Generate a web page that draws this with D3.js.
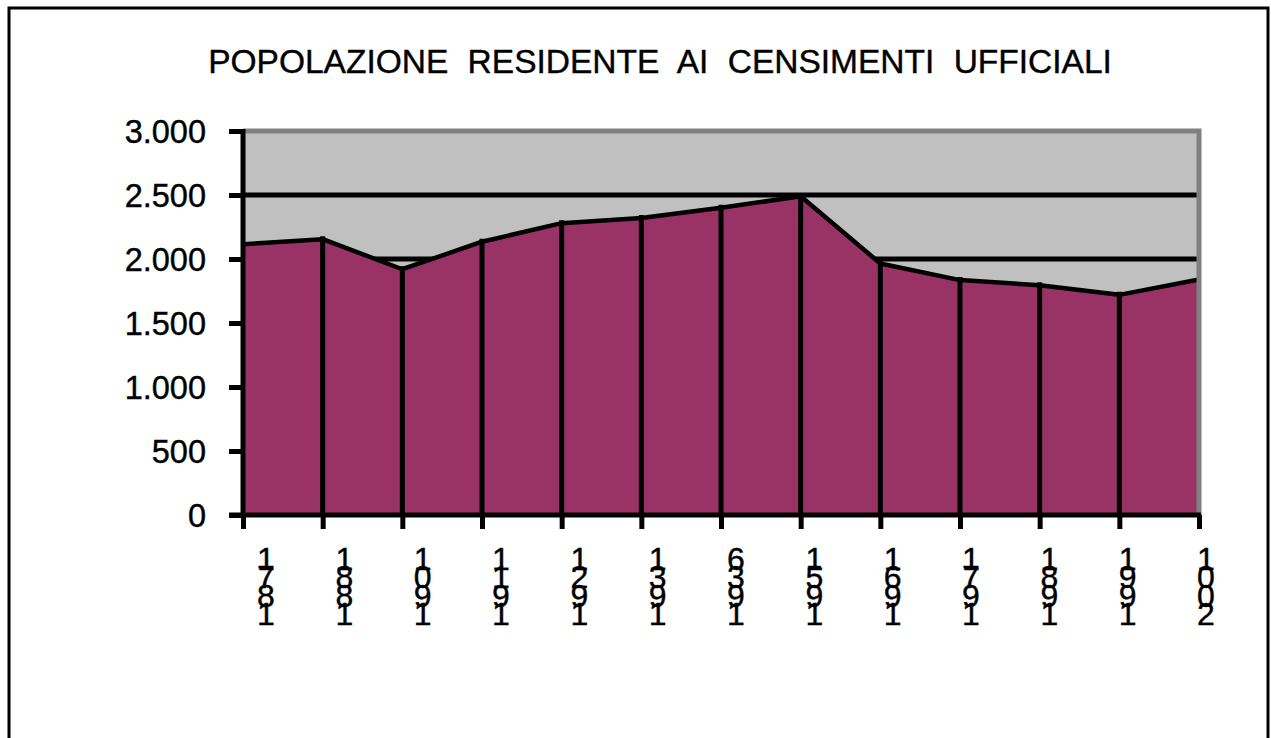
<!DOCTYPE html>
<html><head><meta charset="utf-8">
<script src="https://cdn.jsdelivr.net/npm/d3@7"></script>
<style>
html,body{margin:0;padding:0;background:#fff;}
svg{display:block;font-family:"Liberation Sans",Arial,sans-serif;}
</style></head>
<body><svg id="c" width="1271" height="738"></svg>
<script>
const title = "POPOLAZIONE RESIDENTE AI CENSIMENTI UFFICIALI";
const years = ["1871","1881","1901","1911","1921","1931","1936","1951","1961","1971","1981","1991","2001"];
const population = [2115, 2155, 1920, 2135, 2280, 2320, 2400, 2490, 1965, 1835, 1795, 1720, 1840];
const yTicks = [0, 500, 1000, 1500, 2000, 2500, 3000];

const data = years.map((y, i) => ({year: y, value: population[i]}));
const svg = d3.select("#c");
const L = 243, R = 1199, T = 131, B = 515;

const x = d3.scalePoint().domain(years).range([L, R]).padding(0);
const xLab = d3.scalePoint().domain(years).range([266, 1206]).padding(0);
const y = d3.scaleLinear().domain([0, 3000]).range([B, T]);
const fmt = d3.formatLocale({decimal: ",", thousands: ".", grouping: [3], currency: ["", ""]}).format(",d");

// outer frame
svg.append("rect").attr("x", 9).attr("y", 8).attr("width", 1259).attr("height", 760)
  .attr("fill", "#fff").attr("stroke", "#000").attr("stroke-width", 3);

// title
svg.append("text").attr("x", 660).attr("y", 73).attr("text-anchor", "middle")
  .attr("font-size", 33.5).attr("word-spacing", 10).attr("fill", "#000").attr("stroke", "#000").attr("stroke-width", 0.4)
  .text(title);

// plot background
svg.append("rect").attr("x", L).attr("y", T).attr("width", R - L).attr("height", B - T).attr("fill", "#c0c0c0");

// gridlines (behind area)
svg.append("g").selectAll("line").data(yTicks.filter(t => t > 0 && t < 3000)).join("line")
  .attr("x1", L).attr("x2", R).attr("y1", d => y(d)).attr("y2", d => y(d))
  .attr("stroke", "#000").attr("stroke-width", 5);

// area
const area = d3.area().x(d => x(d.year)).y0(B).y1(d => y(d.value));
svg.append("path").datum(data).attr("d", area).attr("fill", "#993366");
const line = d3.line().x(d => x(d.year)).y(d => y(d.value));
svg.append("path").datum(data).attr("d", line).attr("fill", "none")
  .attr("stroke", "#000").attr("stroke-width", 4.5).attr("stroke-linejoin", "round");

// drop lines
svg.append("g").selectAll("line").data(data.slice(1, -1)).join("line")
  .attr("x1", d => x(d.year)).attr("x2", d => x(d.year))
  .attr("y1", d => y(d.value) - 3).attr("y2", B)
  .attr("stroke", "#000").attr("stroke-width", 5);

// plot border top & right (gray)
svg.append("path").attr("d", `M${L},${T}H${R}V${B}`).attr("fill", "none")
  .attr("stroke", "#808080").attr("stroke-width", 5);

// y axis
const yAxis = d3.axisLeft(y).tickValues(yTicks).tickFormat(fmt).tickSize(14).tickPadding(23);
const gy = svg.append("g").attr("transform", `translate(${L},0)`).call(yAxis);
gy.select(".domain").attr("stroke", "#000").attr("stroke-width", 5).attr("d", `M0,${T - 2}V${B + 2}`);
gy.selectAll(".tick line").attr("stroke", "#000").attr("stroke-width", 5);
gy.selectAll(".tick text").attr("font-size", 32.5).attr("fill", "#000").attr("stroke", "#000").attr("stroke-width", 0.4)
  .attr("font-family", "Liberation Sans, Arial, sans-serif").attr("dy", "0.36em");

// x axis
const xAxis = d3.axisBottom(x).tickSize(14).tickFormat("");
const gx = svg.append("g").attr("transform", `translate(0,${B})`).call(xAxis);
gx.select(".domain").attr("stroke", "#000").attr("stroke-width", 5).attr("d", `M${L - 14},0H${R + 2}`);
gx.selectAll(".tick line").attr("stroke", "#000").attr("stroke-width", 5);

// x labels: glyphs stacked bottom-to-top
const lab = svg.append("g").attr("font-size", 32).attr("fill", "#000").attr("stroke", "#000").attr("stroke-width", 0.4);
years.forEach(yr => {
  const chars = yr.split("").reverse();
  const t = lab.append("text").attr("text-anchor", "middle");
  chars.forEach((c, j) => {
    t.append("tspan").attr("x", xLab(yr)).attr("y", 570 + j * 18.3).text(c);
  });
});
</script></body></html>
